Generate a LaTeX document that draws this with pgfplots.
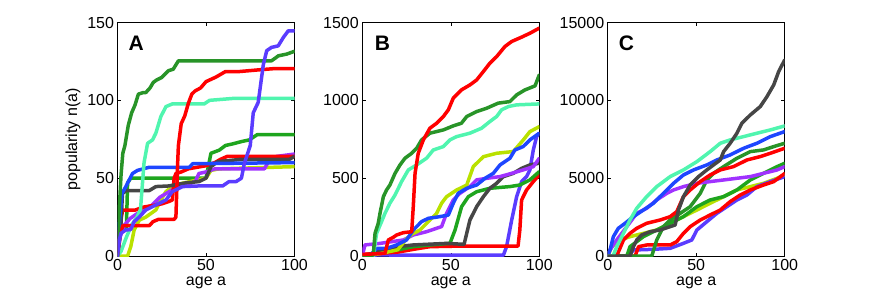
\documentclass[border=0pt]{standalone}
\usepackage{fontspec}
\setmainfont{Liberation Sans}
\usepackage{pgfplots}
\pgfplotsset{compat=1.18}
\definecolor{cgreen}{RGB}{40,148,40}
\definecolor{cgreen2}{RGB}{30,165,30}
\definecolor{caqua}{RGB}{80,245,175}
\definecolor{cblue}{RGB}{30,70,255}
\definecolor{cindigo}{RGB}{90,60,255}
\definecolor{cpurple}{RGB}{160,50,255}
\definecolor{cyg}{RGB}{185,225,0}
\definecolor{cgray}{RGB}{70,70,70}
\definecolor{cred}{RGB}{255,0,0}
\pgfplotsset{
  panel/.style={
    scale only axis, width=177pt, height=233.5pt, anchor=south west,
    xmin=0, xmax=100, ymin=0, xtick={0,50,100},
    tick align=inside, major tick length=3.5pt,
    axis line style={black, line width=0.7pt},
    every tick/.style={black, line width=0.6pt},
    /pgf/number format/assume math mode=true,
    scaled y ticks=false,
    yticklabel style={/pgf/number format/.cd, fixed, 1000 sep={}},
    tick label style={font=\fontsize{16}{18}\selectfont},
    label style={font=\fontsize{16}{18}\selectfont},
    xlabel={age a},
    xlabel style={yshift=0.5pt},
    every axis plot/.append style={line width=3.5pt, line join=round, line cap=round, no marks},
  },
}
\tikzset{plabel/.style={anchor=north west, inner sep=0pt, font=\fontsize{21}{23}\selectfont\bfseries}}
\begin{document}
\begin{tikzpicture}
\path[use as bounding box] (0,0) rectangle (872pt,300pt);
% ---------------- Panel A
\begin{axis}[panel, at={(117.5pt,44pt)}, ymax=150, ytick={0,50,100,150}, ylabel={popularity n(a)}]
\addplot[cgreen2] coordinates {(0,0)(2,17)(5,17)(5.7,47)(7.5,50)(50,50)(52.8,66)(57.5,68)(61,71)(65,72)(70,73.5)(74.5,74.6)(79,78)(100,78)};
\addplot[cyg] coordinates {(0,0)(5.7,0)(7.5,6)(9.4,16.7)(12.3,23)(16,25)(21.7,29.6)(24.5,36)(27.4,41.4)(32,45.6)(50,50)(52.8,55)(57.5,56)(100,57.4)};
\addplot[cpurple] coordinates {(0,0)(1.4,12)(4,20)(7,24)(10.8,27)(14.6,29.3)(19.3,32.5)(24,37.8)(28.7,41)(33.4,44.2)(40,46)(44,48)(46,53)(50,54)(55,56)(83,56)(86,62)(90,64)(100,65.5)};
\addplot[cred] coordinates {(0,0)(1.5,22)(3,29.5)(10,29.5)(14.6,31.4)(20.2,32.5)(25,33.5)(29,35)(31,36)(32,50)(33,53)(36,54)(40,56)(50,58)(55,60)(58,62)(62,64)(100,64)};
\addplot[cgray] coordinates {(0,0)(1.9,19)(2.8,40)(4.7,42)(17.9,42)(21.7,44.6)(29,45)(38.7,47)(46,47.8)(50,50)(52.8,57.4)(56.6,60.6)(68.9,62)(97,62)(100,64)};
\addplot[cblue] coordinates {(0,0)(1,20)(2.5,40)(4.7,44.6)(8.5,53)(11.3,55)(17.9,57)(40.6,57)(42.5,59.3)(100,60)};
\addplot[caqua] coordinates {(0,0)(2,3)(5,12)(8,20)(11,25)(13,30)(14,45)(15,60)(17,72.4)(19.8,74.6)(21.7,79)(24.5,89.6)(27.4,96)(31,97.7)(49,97.7)(52,100)(65,101.2)(100,101.2)};
\addplot[cred] coordinates {(0,0)(1.5,14)(3,19.5)(18,19.5)(20,22)(23,23.5)(32,23.5)(33,25)(34,60)(34.4,71)(36,85)(38,90)(40,98)(42,104)(43.8,106)(47,108)(50,112)(55.7,115)(61,118.5)(68.9,118.5)(80,119.6)(87.7,120.3)(100,120.3)};
\addplot[cgreen] coordinates {(0,0)(1,30)(2,52)(3,66)(4.2,71)(6.1,84)(8,92)(9.9,97)(11.8,104)(14.6,105)(16,105)(18.4,108)(20.2,111.5)(22,113)(25,114.7)(27,117)(28.7,119)(31.5,120)(34.4,125.4)(87,125.4)(89,127)(90.9,128.6)(95.6,129.7)(100,131.5)};
\addplot[cindigo] coordinates {(0,0)(1,10)(1.9,14.6)(4.7,16.7)(7.5,17)(9.4,22)(12.3,25)(16,29.6)(21.7,32.8)(27.4,36)(31,41.4)(36.8,44.6)(46,45)(59.4,45)(63,47.8)(67,47.8)(70,50)(71.7,59.6)(75,71)(76.7,92)(79.5,98.7)(82.4,123)(84.3,131.9)(87,134)(90.8,135)(93.7,140.4)(96.5,144.7)(100,144.7)};
\node[plabel] at (rel axis cs:0.062,0.944) {A};
\end{axis}
% ---------------- Panel B
\begin{axis}[panel, at={(362.3pt,44pt)}, ymax=1500, ytick={0,500,1000,1500}]
\addplot[cindigo] coordinates {(0,0)(10,8)(20,5)(79.7,5)(81.5,60)(84.4,231)(87.2,381)(90,478)(92.8,510)(94.7,553)(96.6,681)(98.5,767)(100,789)};
\addplot[cred] coordinates {(0,10)(20,25)(30,45)(38.2,60)(57,64)(88,64)(89,167)(90,360)(92.8,424)(96.6,478)(100,521)};
\addplot[cgreen2] coordinates {(0,0)(10,20)(20,40)(28.8,60)(38.2,71)(49.5,81)(52.4,167)(56.1,317)(59.9,381)(64.6,413)(72.1,435)(83.4,446)(89,456)(94.7,489)(100,542)};
\addplot[cgray] coordinates {(0,0)(10,30)(19.4,60)(28.8,71)(47.6,81)(57.5,75)(59,146)(60.8,231)(64.6,317)(68.4,381)(72.1,435)(75.9,467)(79.7,510)(85.3,531)(90,563)(94.7,585)(100,596)};
\addplot[cpurple] coordinates {(0,0)(1.5,71)(10,81)(23.2,103)(28.8,135)(36.3,156)(44.8,189)(47.6,274)(51.4,360)(55.2,403)(60.8,446)(64.6,489)(70.2,499)(77.8,510)(84.4,531)(90.9,553)(96.6,574)(100,628)};
\addplot[cyg] coordinates {(0,0)(10,15)(20,40)(25,110)(28,140)(32.6,167)(38.2,231)(42,274)(44.8,339)(47.6,381)(53.3,424)(59,456)(62.7,574)(68.4,638)(75.9,660)(85.3,671)(91,746)(94.7,799)(100,831)};
\addplot[cblue] coordinates {(0,0)(5,10)(8.1,49)(13.7,49)(19.4,71)(25,103)(28.8,167)(33.5,221)(37.3,242)(43.9,253)(48.6,263)(51.4,339)(54.2,403)(59,435)(64.6,456)(69.3,499)(74,531)(77.8,585)(83.4,628)(86.2,681)(90.9,703)(94.7,746)(100,789)};
\addplot[caqua] coordinates {(0,0)(6.2,0)(8.1,146)(10.9,221)(12.8,274)(15.6,339)(18.5,392)(22.2,478)(26,553)(30.7,585)(36.3,628)(40.1,681)(45.8,703)(49.5,746)(53.3,767)(60.8,789)(67.4,821)(72.1,864)(75.9,896)(78.7,939)(82.5,960)(87.2,971)(100,977)};
\addplot[cgreen] coordinates {(0,0)(6.2,6)(7.2,146)(9,210)(10,274)(11.9,381)(13.7,424)(15.6,456)(18.5,531)(21.3,585)(24.1,628)(27.9,660)(30.7,692)(33.5,746)(38.2,789)(45.8,810)(51.4,836)(56,853)(59,896)(64.6,928)(70.2,949)(76.8,982)(83.4,992)(87.2,1035)(91.9,1067)(97.6,1093)(100,1164)};
\addplot[cred] coordinates {(0,10)(12.8,17)(14.7,103)(17.5,120)(19.4,135)(23.2,150)(27.9,156)(28.8,317)(29.8,531)(31.6,660)(34.5,746)(38.2,821)(42,853)(45.8,896)(48.6,939)(51.4,1014)(56,1067)(60.8,1099)(64.6,1131)(68.4,1185)(72.1,1239)(75.9,1281)(80.6,1346)(84.4,1378)(90,1406)(94.7,1431)(100,1464)};
\node[plabel] at (rel axis cs:0.07,0.944) {B};
\end{axis}
% ---------------- Panel C
\begin{axis}[panel, at={(607.7pt,44pt)}, ymax=15000, ytick={0,5000,10000,15000}]
\addplot[cyg] coordinates {(0,0)(2.3,600)(7,1029)(12.6,1243)(20.2,1457)(27.7,1671)(35.3,2100)(42.8,2529)(50.4,2957)(57.9,3386)(65.5,3814)(73,4243)(80.6,4457)(88.1,4671)(95.7,4993)(100,5207)};
\addplot[cindigo] coordinates {(0,0)(11.7,0)(14.5,386)(25.8,429)(35.3,493)(42.8,814)(47.5,1029)(50.4,1671)(56,2207)(61.7,2743)(67.4,3171)(73,3600)(78.7,3921)(84.3,4457)(91.9,4779)(100,5100)};
\addplot[cred] coordinates {(0,0)(15.5,0)(17.4,600)(22,707)(35.3,707)(39,921)(42.8,1457)(46.6,1886)(52.3,2314)(57.9,2636)(63.6,2957)(69.2,3493)(74.9,3921)(80.6,4243)(88.1,4564)(93.8,4779)(100,5300)};
\addplot[cgreen2] coordinates {(0,0)(10.8,0)(12.6,600)(20.2,1243)(27.7,1671)(35.3,2100)(42.8,2529)(50.4,3171)(57.9,3600)(65.5,3814)(73,4243)(80.6,4886)(88.1,5314)(95.7,5743)(100,5957)};
\addplot[cgreen] coordinates {(0,0)(24.9,0)(27.7,1029)(31.5,1886)(35.3,2314)(41,2743)(46.6,3171)(52.3,4029)(56,4886)(59.8,5314)(65.5,5743)(73,6279)(80.6,6707)(88.1,6814)(93.8,7029)(100,7243)};
\addplot[cpurple] coordinates {(0,0)(1.3,386)(5.1,1029)(10.8,1886)(16.4,2743)(22,3064)(27.7,3600)(33.4,4029)(37.2,4243)(42.8,4457)(50.4,4671)(57.9,4779)(65.5,4886)(73,4993)(80.6,5100)(88.1,5314)(95.7,5529)(100,5743)};
\addplot[cred] coordinates {(0,0)(5.1,0)(8.9,1029)(12.6,1457)(16.4,1779)(22,2100)(29.6,2314)(35.3,2529)(39,2850)(42.8,3814)(46.6,4243)(52.3,4779)(57.9,5207)(63.6,5529)(71.1,5743)(78.7,6171)(86.2,6386)(91.9,6600)(100,6921)};
\addplot[cblue] coordinates {(0,0)(1.3,386)(3.2,1243)(6,1779)(9.8,2100)(14.5,2529)(20.2,2957)(25.8,3386)(31.5,4029)(37.2,4671)(42.8,5207)(48.5,5529)(56,5850)(61.7,6171)(69.2,6493)(76.8,6921)(84.3,7243)(91.9,7671)(100,7993)};
\addplot[caqua] coordinates {(0,0)(3,0)(5.1,600)(8.9,1457)(12.6,2314)(16.4,3064)(22,3814)(27.7,4457)(35.3,5100)(42.8,5529)(50.4,6064)(57.9,6707)(63.6,7243)(69.2,7457)(76.8,7671)(84.3,7886)(91.9,8100)(100,8357)};
\addplot[cgray] coordinates {(0,0)(12.6,0)(14.5,600)(16.4,1029)(19.2,1350)(24,1564)(29.6,1671)(35.3,1886)(38.1,1993)(40,2957)(42.8,3814)(46.6,4564)(51.3,5100)(56,5529)(59.8,5850)(63.6,6171)(65.5,6707)(69.2,7243)(73,7886)(75.8,8529)(80.6,9064)(86.2,9600)(90,10243)(93.8,10993)(96.6,11850)(100,12600)};
\node[plabel] at (rel axis cs:0.062,0.944) {C};
\end{axis}
\end{tikzpicture}
\end{document}
